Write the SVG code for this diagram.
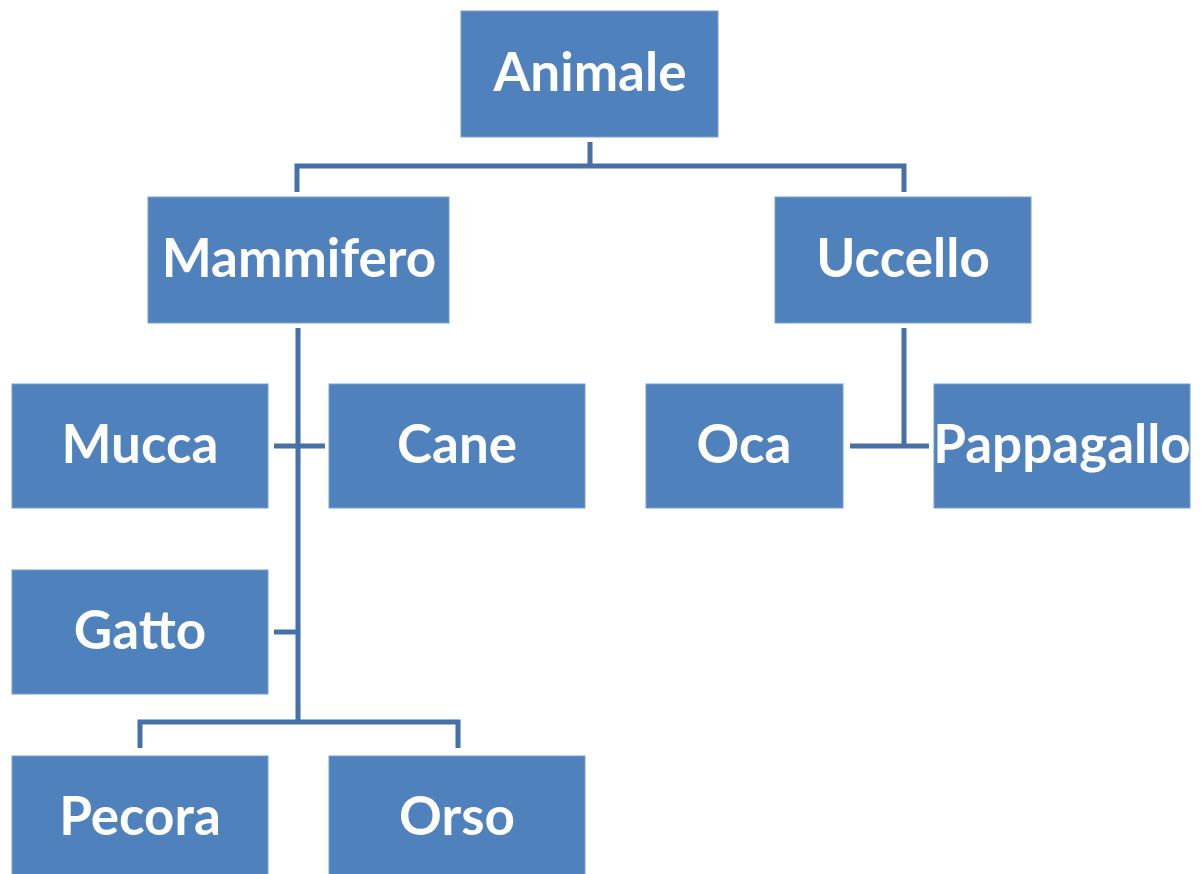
<svg xmlns="http://www.w3.org/2000/svg" width="1202" height="874" viewBox="0 0 1202 874">
<style>
.box{fill:#4f81bd;stroke:#7da0cf;stroke-width:1}
.lbl{font-family:"Lato","Open Sans","Liberation Sans",sans-serif;font-weight:bold;font-size:53px;fill:#ffffff;text-anchor:middle}
.con{fill:none;stroke:#4570a8;stroke-width:5}
</style>
<rect width="1202" height="874" fill="#ffffff"/>
<g id="connectors">
<path class="con" d="M590,142 V166 M297,192 V166 H904 V192"/>
<path class="con" d="M298,328 V722 M274,446 H325 M274,632 H298 M140,748 V722 H458 V748"/>
<path class="con" d="M904,328 V446 M850,446 H929"/>
</g>
<g id="n-animale"><rect class="box" x="461" y="11" width="257" height="126"/><text class="lbl" x="590" y="91">Animale</text></g>
<g id="n-mammifero"><rect class="box" x="148" y="197" width="301" height="126"/><text class="lbl" x="299" y="277">Mammifero</text></g>
<g id="n-uccello"><rect class="box" x="775" y="197" width="256" height="126"/><text class="lbl" x="903" y="277">Uccello</text></g>
<g id="n-mucca"><rect class="box" x="12" y="384" width="256" height="124"/><text class="lbl" x="140" y="463">Mucca</text></g>
<g id="n-cane"><rect class="box" x="329" y="384" width="256" height="124"/><text class="lbl" x="457" y="463">Cane</text></g>
<g id="n-oca"><rect class="box" x="646" y="384" width="197" height="124"/><text class="lbl" x="744" y="463">Oca</text></g>
<g id="n-pappagallo"><rect class="box" x="934" y="384" width="256" height="124"/><text class="lbl" x="1062" y="463">Pappagallo</text></g>
<g id="n-gatto"><rect class="box" x="12" y="570" width="256" height="124"/><text class="lbl" x="140" y="649">Gatto</text></g>
<g id="n-pecora"><rect class="box" x="12" y="756" width="256" height="124"/><text class="lbl" x="140" y="835">Pecora</text></g>
<g id="n-orso"><rect class="box" x="329" y="756" width="256" height="124"/><text class="lbl" x="457" y="835">Orso</text></g>
</svg>
